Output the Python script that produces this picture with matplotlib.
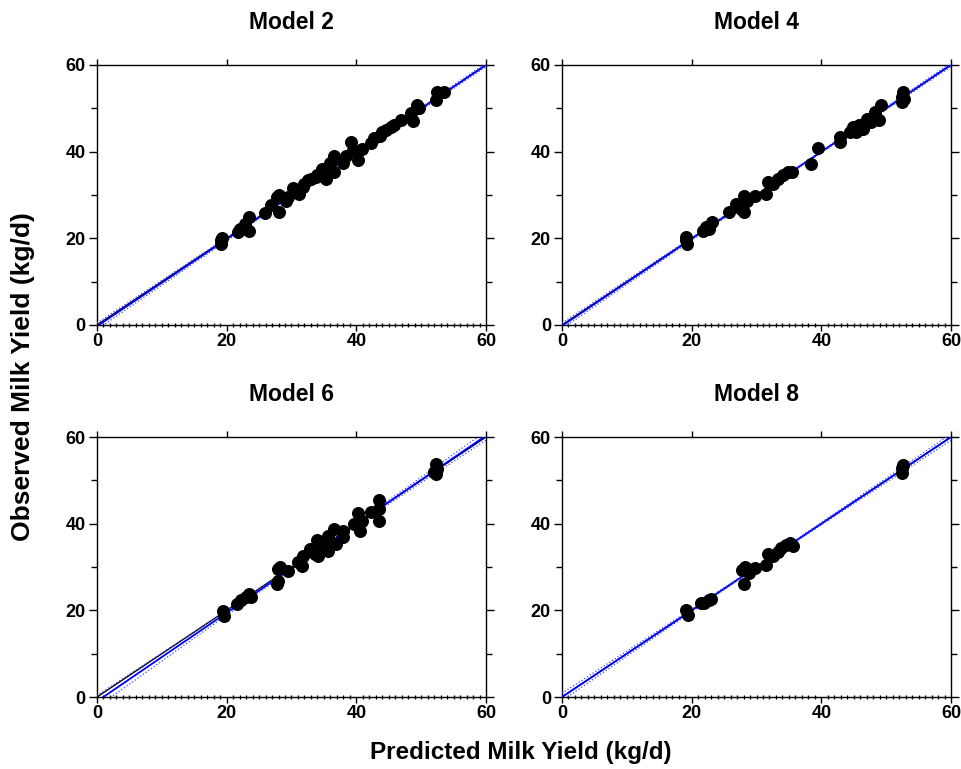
import matplotlib.pyplot as plt
import numpy as np
from matplotlib.ticker import MultipleLocator

plt.rcParams['font.family'] = ['Liberation Sans', 'DejaVu Sans']
plt.rcParams['font.weight'] = 'bold'

titles = ["Model 2", "Model 4", "Model 6", "Model 8"]

# predicted / observed
pred_m2 = [19.1, 19.2, 19.3, 21.7, 22.1, 22.7, 23.4, 23.4, 22.9, 25.9, 26.8, 28.0, 27.8, 28.1,
           29.1, 30.3, 31.2, 31.7, 32.5, 33.0, 33.8, 34.7, 35.3, 35.9, 36.6, 36.6, 37.9, 38.4,
           39.2, 39.5, 40.2, 40.8, 42.3, 42.8, 43.6, 44.6, 45.4, 45.8, 46.9, 48.4, 48.7, 49.3,
           49.7, 52.3, 52.4, 53.5, 32.0, 34.0, 29.5, 44.0]
obs_m2 = [18.7, 19.5, 20.1, 21.4, 22.1, 22.5, 21.8, 24.9, 23.3, 25.8, 27.6, 26.0, 29.5, 29.9,
          28.7, 31.7, 30.3, 31.9, 33.4, 33.8, 34.2, 35.9, 33.8, 37.3, 38.9, 35.4, 37.3, 38.9,
          42.3, 40.4, 38.1, 40.6, 42.0, 43.1, 43.7, 45.1, 45.8, 46.2, 47.4, 49.0, 47.0, 50.7,
          50.1, 51.9, 53.8, 53.8, 32.5, 34.5, 29.6, 44.6]

pred_m4 = [19.1, 19.1, 19.3, 21.7, 22.2, 22.7, 23.2, 25.8, 26.8, 27.6, 28.1, 28.1, 28.6, 29.7,
           31.5, 31.7, 32.5, 33.3, 34.1, 34.8, 35.5, 38.4, 39.5, 42.8, 42.8, 44.4, 44.9, 45.3,
           45.8, 46.4, 47.0, 47.7, 48.2, 48.9, 49.2, 52.4, 52.5, 52.6, 52.7]
obs_m4 = [19.5, 20.2, 18.7, 21.8, 22.5, 22.2, 23.7, 26.0, 27.9, 26.8, 26.0, 29.8, 28.7, 29.8,
          30.2, 32.9, 32.5, 33.7, 34.5, 35.2, 35.2, 37.2, 40.8, 43.3, 42.3, 44.5, 45.8, 44.5,
          46.2, 45.2, 47.5, 46.9, 49.1, 47.2, 50.8, 51.4, 52.5, 53.7, 52.2]

pred_m6 = [19.4, 19.6, 21.6, 22.2, 23.0, 23.5, 23.8, 27.9, 28.2, 27.8, 27.9, 29.5, 31.0, 31.8,
           31.6, 32.8, 33.6, 34.0, 34.1, 34.7, 35.2, 35.6, 35.7, 36.5, 36.8, 38.0, 38.0, 39.6,
           40.2, 40.6, 40.9, 42.2, 43.5, 43.5, 43.5, 52.0, 52.3, 52.4, 52.3]
obs_m6 = [19.9, 18.7, 21.5, 22.3, 23.1, 23.7, 23.0, 29.5, 29.9, 26.1, 26.8, 29.1, 31.1, 32.6,
          30.3, 34.2, 33.0, 36.2, 32.6, 34.5, 35.3, 37.2, 33.8, 38.8, 35.3, 38.4, 36.9, 39.9,
          42.4, 38.4, 40.7, 42.6, 45.5, 40.7, 43.4, 51.9, 53.8, 52.7, 51.5]

pred_m8 = [19.2, 19.5, 21.4, 21.9, 22.6, 23.0, 27.8, 28.3, 28.0, 28.9, 29.7, 31.5, 31.7, 32.5,
           33.3, 33.8, 34.6, 35.2, 35.6, 52.4, 52.6, 52.5]
obs_m8 = [20.0, 18.9, 21.6, 21.7, 22.4, 22.7, 29.3, 30.1, 26.1, 28.7, 29.7, 30.5, 33.0, 32.5,
          33.5, 34.3, 35.1, 35.5, 34.9, 51.7, 53.6, 52.8]

# regression line (blue)
reg_intercept = [-0.3, -0.2, -1.0, 0.0]
reg_slope = [1.005, 1.004, 1.022, 1.0]
# confidence band half-width at x=0 and x=60
band_lo = [0.6, 0.5, 1.2, 0.7]
band_hi = [0.3, 0.3, 0.9, 0.6]

preds = [pred_m2, pred_m4, pred_m6, pred_m8]
obss = [obs_m2, obs_m4, obs_m6, obs_m8]

fig = plt.figure(figsize=(9.62, 7.69), dpi=100)
lefts = [0.1008, 0.5842, 0.1008, 0.5842]
bottoms = [0.5774, 0.5774, 0.0936, 0.0936]

xx = np.linspace(0, 60, 200)
for i in range(4):
    ax = fig.add_axes([lefts[i], bottoms[i], 0.4044, 0.3381])
    x = np.array(preds[i])
    y = np.array(obss[i])
    fit = reg_intercept[i] + reg_slope[i] * xx
    # band narrows towards the data mean
    w = np.abs(xx - x.mean())
    hw = np.where(xx < x.mean(),
                  band_lo[i] * (w / x.mean()) ** 1.3,
                  band_hi[i] * (w / (60 - x.mean())) ** 1.3) + 0.15
    ax.plot([0, 60], [0, 60], color='black', lw=1, zorder=2)
    ax.plot(xx, fit, color='#0000ff', lw=1.3, zorder=3)
    ax.plot(xx, fit + hw, color='#3344ff', lw=0.9, ls=':', zorder=3)
    ax.plot(xx, fit - hw, color='#3344ff', lw=0.9, ls=':', zorder=3)
    ax.scatter(x, y, s=70, color='black', zorder=4, clip_on=False)

    ax.set_xlim(0, 60)
    ax.set_ylim(0, 60)
    ax.set_xticks([0, 20, 40, 60])
    ax.set_yticks([0, 20, 40, 60])
    ax.xaxis.set_minor_locator(MultipleLocator(1))
    ax.yaxis.set_minor_locator(MultipleLocator(10))
    ax.tick_params(axis='y', which='major', direction='out', length=6, width=1,
                   left=True, right=True, labelsize=13, pad=2)
    ax.tick_params(axis='y', which='minor', direction='out', length=4, width=1,
                   left=True, right=True)
    ax.tick_params(axis='x', which='major', direction='out', length=4, width=1,
                   top=True, bottom=True, labelsize=13, pad=2)
    ax.tick_params(axis='x', which='minor', direction='inout', length=3, width=1,
                   top=False, bottom=True)
    for lab in ax.get_xticklabels() + ax.get_yticklabels():
        lab.set_fontweight('bold')
    for sp in ax.spines.values():
        sp.set_linewidth(1)
    ax.set_title(titles[i], fontsize=16.5, fontweight='bold', pad=26)

fig.text(0.024, 0.51, "Observed Milk Yield (kg/d)", rotation=90, ha='center', va='center',
         fontsize=19, fontweight='bold')
fig.text(0.541, 0.022, "Predicted Milk Yield (kg/d)", ha='center', va='center',
         fontsize=17.5, fontweight='bold')

fig.savefig('out.png', dpi=100)
